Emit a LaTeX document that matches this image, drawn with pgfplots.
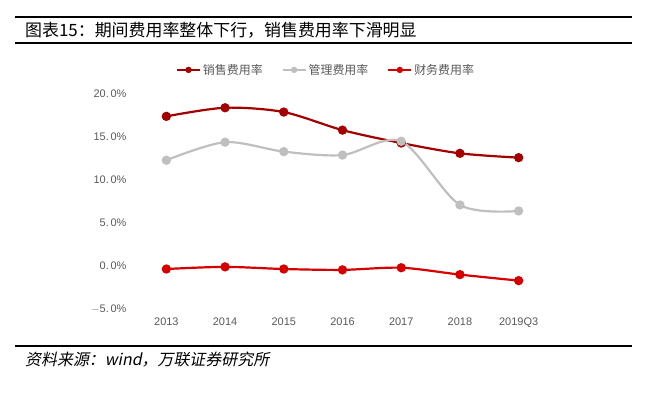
\documentclass[border=0pt]{standalone}
\usepackage{pgfplots}
\pgfplotsset{compat=1.18}
\usetikzlibrary{calc}
\usepackage{fontspec}
\setmainfont{Liberation Sans}
\newfontfamily\cjk{Noto Sans CJK SC}
\newfontfamily\cjkit[FakeSlant=0.2]{Noto Sans CJK SC}
\definecolor{sales}{RGB}{165,0,0}
\definecolor{admin}{RGB}{191,191,191}
\definecolor{fin}{RGB}{215,0,0}
\definecolor{tickgray}{RGB}{89,89,89}
\begin{document}
\begin{tikzpicture}[x=1bp,y=1bp]
\begin{axis}[
  scale only axis, width=411bp, height=215bp,
  xmin=-0.5, xmax=6.5, ymin=-5, ymax=20,
  axis line style={draw=none},
  tick style={draw=none},
  xtick={0,...,6},
  xticklabels={2013,2014,2015,2016,2017,2018,2019Q3},
  ytick={-5,0,5,10,15,20},
  yticklabels={$-$5.\,0\%,0.\,0\%,5.\,0\%,10.\,0\%,15.\,0\%,20.\,0\%},
  ticklabel style={font=\fontsize{11}{12}\selectfont, text=tickgray},
  yticklabel style={xshift=-7bp},
  xticklabel style={yshift=-5bp},
  /pgf/number format/assume math mode=true,
  legend style={at={(0.46,1.112)}, anchor=center, draw=none, legend columns=3,
    font=\cjk\fontsize{12}{13}\selectfont, text=tickgray,
    /tikz/every even column/.append style={column sep=17bp}},
  legend cell align=left,
  legend image code/.code={
    \draw[#1, line width=2.2bp] (0,0) -- (0.8cm,0);
    \fill[#1, draw=none] (0.4cm,0) circle (3.2bp);
  },
]
\addplot[sales, line width=2.2bp, smooth, tension=0.5, mark=*, mark size=3.5bp, mark options={fill=sales, draw=sales}]
 coordinates {(0,17.4) (1,18.4) (2,17.9) (3,15.8) (4,14.3) (5,13.1) (6,12.6)};
\addlegendentry{销售费用率}
\addplot[admin, line width=2.2bp, smooth, tension=0.5, mark=*, mark size=3.5bp, mark options={fill=admin, draw=admin}]
 coordinates {(0,12.3) (1,14.4) (2,13.3) (3,12.9) (4,14.5) (5,7.1) (6,6.4)};
\addlegendentry{管理费用率}
\addplot[fin, line width=2.2bp, smooth, tension=0.5, mark=*, mark size=3.5bp, mark options={fill=fin, draw=fin}]
 coordinates {(0,-0.35) (1,-0.1) (2,-0.35) (3,-0.45) (4,-0.2) (5,-1.0) (6,-1.7)};
\addlegendentry{财务费用率}
\coordinate (P) at (axis cs:-0.5,-5);
\end{axis}
\pgfresetboundingbox
\begin{scope}[shift={($(P)+(-137bp,-83bp)$)}]
\useasboundingbox (0,0) rectangle (647,392);
\draw[line width=2bp] (15,375) -- (632,375);
\draw[line width=2.5bp] (15,349) -- (632,349);
\node[anchor=west,inner sep=0pt] at (25,362) {\cjk\fontsize{17}{19}\selectfont 图表15：期间费用率整体下行，销售费用率下滑明显};
\draw[line width=2bp] (15,46) -- (632,46);
\node[anchor=west,inner sep=0pt] at (25,32) {\cjkit\fontsize{16}{18}\selectfont 资料来源：wind，万联证券研究所};
\end{scope}
\end{tikzpicture}
\end{document}
